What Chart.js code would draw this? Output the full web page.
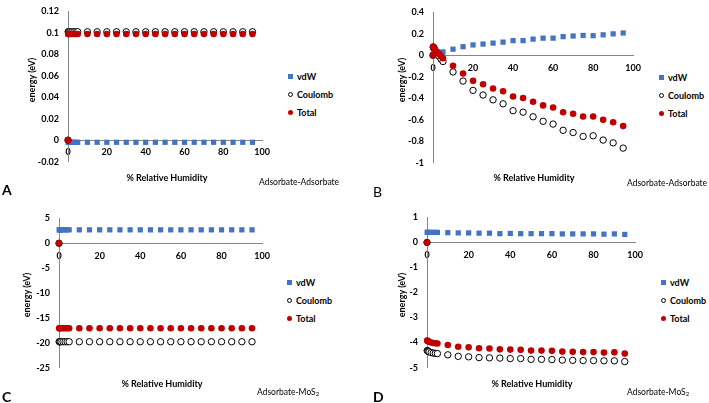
<!DOCTYPE html>
<html>
<head>
<meta charset="utf-8">
<script src="https://cdn.jsdelivr.net/npm/chart.js@4.4.1/dist/chart.umd.min.js"></script>
<style>
  body { margin: 0; width: 709px; height: 403px; position: relative; overflow: hidden; background: #fff; font-family: Lato, 'Open Sans', sans-serif; color: #000; }
  canvas { position: absolute; }
  .t { position: absolute; white-space: nowrap; transform: translate(-50%, -50%); line-height: 1; }
  .xt { font-weight: bold; font-size: 9px; }
  .yt { font-weight: bold; font-size: 9px; transform: translate(-50%, -50%) rotate(-90deg); }
  .sub { font-size: 8.5px; transform: translate(0, -50%); }
  .sub sub { font-size: 6px; vertical-align: -1px; }
  .let { font-size: 14px; font-weight: bold; transform: translate(0, -50%); }
  .leg { position: absolute; font-weight: bold; font-size: 9px; }
  .leg div { height: 18px; display: flex; align-items: center; }
  .mk { display: inline-block; width: 5px; height: 5px; margin-right: 4px; box-sizing: border-box; }
</style>
</head>
<body>
<canvas id="chart-a"></canvas>
<canvas id="chart-b"></canvas>
<canvas id="chart-c"></canvas>
<canvas id="chart-d"></canvas>
<script>
// % relative humidity, shared by all four panels
const rh = [0, 0.1, 0.25, 0.5, 1, 2, 3, 4, 5, 10, 15, 20, 25, 30, 35, 40, 45, 50, 55, 60, 65, 70, 75, 80, 85, 90, 95];
const seriesNames = ['vdW', 'Coulomb', 'Total'];

// A: adsorbate-adsorbate
const vdwA     = [0, -0.002, -0.002, -0.002, -0.002, -0.002, -0.002, -0.002, -0.002, -0.002, -0.002, -0.002, -0.002, -0.002, -0.002, -0.002, -0.002, -0.002, -0.002, -0.002, -0.002, -0.002, -0.002, -0.002, -0.002, -0.002, -0.002];
const coulombA = [0, 0.101, 0.101, 0.101, 0.101, 0.101, 0.101, 0.101, 0.101, 0.101, 0.101, 0.101, 0.101, 0.101, 0.101, 0.101, 0.101, 0.101, 0.101, 0.101, 0.101, 0.101, 0.101, 0.101, 0.101, 0.101, 0.101];
const totalA   = [0, 0.099, 0.099, 0.099, 0.099, 0.099, 0.099, 0.099, 0.099, 0.099, 0.099, 0.099, 0.099, 0.099, 0.099, 0.099, 0.099, 0.099, 0.099, 0.099, 0.099, 0.099, 0.099, 0.099, 0.099, 0.099, 0.099];

// B: adsorbate-adsorbate
const vdwB     = [0, 0.002, 0.004, 0.007, 0.012, 0.018, 0.023, 0.027, 0.031, 0.057, 0.08, 0.097, 0.105, 0.114, 0.123, 0.137, 0.137, 0.151, 0.16, 0.16, 0.174, 0.18, 0.185, 0.183, 0.191, 0.2, 0.208];
const coulombB = [0, 0.078, 0.072, 0.063, 0.045, 0.015, -0.01, -0.035, -0.058, -0.155, -0.24, -0.327, -0.37, -0.415, -0.452, -0.516, -0.53, -0.573, -0.615, -0.641, -0.699, -0.72, -0.756, -0.75, -0.79, -0.816, -0.865];
const totalB   = [0, 0.08, 0.076, 0.07, 0.057, 0.033, 0.013, -0.008, -0.027, -0.098, -0.17, -0.238, -0.27, -0.31, -0.335, -0.384, -0.398, -0.433, -0.467, -0.487, -0.53, -0.544, -0.57, -0.57, -0.6, -0.624, -0.66];

// C: adsorbate-MoS2
const vdwC     = [0, 2.7, 2.7, 2.7, 2.7, 2.7, 2.7, 2.7, 2.7, 2.7, 2.7, 2.7, 2.7, 2.7, 2.7, 2.7, 2.7, 2.7, 2.7, 2.7, 2.7, 2.7, 2.7, 2.7, 2.7, 2.7, 2.7];
const coulombC = [0, -19.8, -19.8, -19.8, -19.8, -19.8, -19.8, -19.8, -19.8, -19.8, -19.8, -19.8, -19.8, -19.8, -19.8, -19.8, -19.8, -19.8, -19.8, -19.8, -19.8, -19.8, -19.8, -19.8, -19.8, -19.8, -19.8];
const totalC   = [0, -17.1, -17.1, -17.1, -17.1, -17.1, -17.1, -17.1, -17.1, -17.1, -17.1, -17.1, -17.1, -17.1, -17.1, -17.1, -17.1, -17.1, -17.1, -17.1, -17.1, -17.1, -17.1, -17.1, -17.1, -17.1, -17.1];

// D: adsorbate-MoS2
const vdwD     = [0, 0.4, 0.4, 0.4, 0.4, 0.4, 0.4, 0.4, 0.4, 0.39, 0.38, 0.38, 0.37, 0.37, 0.35, 0.36, 0.35, 0.35, 0.35, 0.35, 0.34, 0.34, 0.34, 0.34, 0.33, 0.34, 0.32];
const coulombD = [0, -4.32, -4.33, -4.35, -4.37, -4.4, -4.42, -4.43, -4.44, -4.49, -4.55, -4.57, -4.6, -4.61, -4.62, -4.64, -4.64, -4.67, -4.67, -4.68, -4.7, -4.71, -4.72, -4.72, -4.73, -4.73, -4.76];
const totalD   = [0, -3.92, -3.93, -3.95, -3.97, -4, -4.02, -4.03, -4.04, -4.1, -4.17, -4.19, -4.23, -4.24, -4.27, -4.28, -4.29, -4.32, -4.32, -4.33, -4.36, -4.37, -4.38, -4.38, -4.4, -4.39, -4.44];

const xTicks = { min: 0, max: 100, step: 20 };
const yTicksA = { min: -0.02, max: 0.12, step: 0.02 };
const yTicksB = { min: -1, max: 0.4, step: 0.2 };
const yTicksC = { min: -25, max: 5, step: 5 };
const yTicksD = { min: -5, max: 1, step: 1 };

const BLUE = '#4472C4';
const RED = '#C00000';
const AXIS = '#868686';

Chart.defaults.font.family = 'Lato, "Open Sans", sans-serif';
Chart.defaults.font.size = 9;
Chart.defaults.font.weight = 'bold';
Chart.defaults.color = '#000';

const Y_W = 46, PAD_T = 8, PAD_R = 12, PAD_B = 8;

const panels = [
    { id: 'chart-a', box: [68, 265, 5, 168], y: yTicksA, vals: [vdwA, coulombA, totalA], letter: 'A', letterBold: true, sub: 'Adsorbate-Adsorbate',
      title: [167, 177], yTitle: [31, 80], subPos: [259, 182], letterPos: [2, 190], legend: [288, 67] },
    { id: 'chart-b', box: [433, 636, 6, 169], y: yTicksB, vals: [vdwB, coulombB, totalB], letter: 'B', letterBold: false, sub: 'Adsorbate-Adsorbate',
      title: [534, 177], yTitle: [401, 80], subPos: [627, 183], letterPos: [373, 192], legend: [659, 68] },
    { id: 'chart-c', box: [59, 265, 212, 374], y: yTicksC, vals: [vdwC, coulombC, totalC], letter: 'C', letterBold: true, sub: 'Adsorbate-MoS<sub>2</sub>',
      title: [162, 383], yTitle: [26, 295], subPos: [257, 392], letterPos: [2, 397], legend: [287, 273] },
    { id: 'chart-d', box: [427, 638, 211, 374], y: yTicksD, vals: [vdwD, coulombD, totalD], letter: 'D', letterBold: true, sub: 'Adsorbate-MoS<sub>2</sub>',
      title: [532, 383], yTitle: [401, 295], subPos: [627, 392], letterPos: [373, 397], legend: [661, 273] }
];

function fmt(v) {
    return String(+v.toFixed(3));
}

function points(vals) {
    return vals.map((v, i) => ({ x: rh[i], y: v }));
}

function addText(html, x, y, cls) {
    const el = document.createElement('div');
    el.className = 't ' + cls;
    el.innerHTML = html;
    el.style.left = x + 'px';
    el.style.top = y + 'px';
    document.body.appendChild(el);
    return el;
}

function addLegend(x, y) {
    const el = document.createElement('div');
    el.className = 'leg';
    el.style.left = x + 'px';
    el.style.top = y + 'px';
    const marks = [
        `background:${BLUE}`,
        'background:#fff;border:1px solid #000;border-radius:50%',
        `background:${RED};border-radius:50%`
    ];
    el.innerHTML = seriesNames.map((n, i) => `<div><span class="mk" style="${marks[i]}"></span>${n}</div>`).join('');
    document.body.appendChild(el);
}

function renderPanel(p) {
    const [l, r, t, b] = p.box;
    const canvas = document.getElementById(p.id);
    const w = Y_W + (r - l) + PAD_R;
    const h = PAD_T + (b - t) + PAD_B;
    canvas.style.left = (l - Y_W) + 'px';
    canvas.style.top = (t - PAD_T) + 'px';
    canvas.style.width = w + 'px';
    canvas.style.height = h + 'px';
    canvas.width = w;
    canvas.height = h;

    const [vdw, coulomb, total] = p.vals;
    new Chart(canvas.getContext('2d'), {
        type: 'scatter',
        data: {
            datasets: [
                { label: seriesNames[0], data: points(vdw), pointStyle: 'rect', pointRadius: 3.7,
                  backgroundColor: BLUE, borderColor: BLUE, borderWidth: 0, order: 2, clip: false },
                { label: seriesNames[1], data: points(coulomb), pointStyle: 'circle', pointRadius: 3.2,
                  backgroundColor: '#fff', borderColor: '#000', borderWidth: 1, order: 1, clip: false },
                { label: seriesNames[2], data: points(total), pointStyle: 'circle', pointRadius: 3.3,
                  backgroundColor: RED, borderColor: RED, borderWidth: 0, order: 0, clip: false }
            ]
        },
        options: {
            responsive: false,
            animation: false,
            events: [],
            layout: { padding: { left: 0, top: PAD_T, right: PAD_R, bottom: PAD_B } },
            plugins: { legend: { display: false }, tooltip: { enabled: false } },
            scales: {
                x: {
                    type: 'linear', position: { y: 0 },
                    min: xTicks.min, max: xTicks.max,
                    grid: { display: false, drawTicks: false },
                    border: { display: true, color: AXIS, width: 1 },
                    ticks: { stepSize: xTicks.step, padding: 7, callback: fmt }
                },
                y: {
                    type: 'linear', position: 'left',
                    min: p.y.min, max: p.y.max,
                    grid: { display: false, drawTicks: false },
                    border: { display: true, color: AXIS, width: 1 },
                    ticks: { stepSize: p.y.step, padding: 9, callback: fmt },
                    afterFit: s => { s.width = Y_W; }
                }
            }
        }
    });

    addText('% Relative Humidity', p.title[0], p.title[1], 'xt');
    addText('energy (eV)', p.yTitle[0], p.yTitle[1], 'yt');
    addText(p.sub, p.subPos[0], p.subPos[1], 'sub');
    const letter = addText(p.letter, p.letterPos[0], p.letterPos[1], 'let');
    if (!p.letterBold) letter.style.fontWeight = 'normal';
    addLegend(p.legend[0], p.legend[1]);
}

panels.forEach(renderPanel);
</script>
</body>
</html>
